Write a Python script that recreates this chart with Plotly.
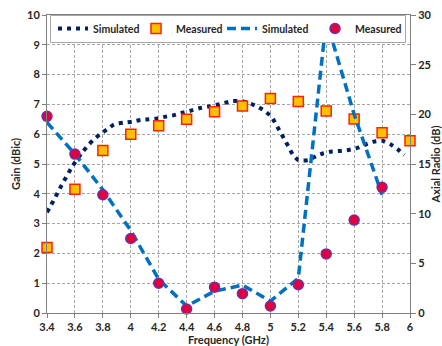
import plotly.graph_objects as go

# Simulated gain (dotted curve)
sim_gain_freq = [3.40, 3.43, 3.46, 3.49, 3.52, 3.55, 3.58, 3.65, 3.69, 3.73, 3.78, 3.83, 3.88, 3.95,
                 4.01, 4.07, 4.13, 4.19, 4.25, 4.31, 4.37, 4.43, 4.49, 4.55, 4.61, 4.67, 4.73, 4.79,
                 4.85, 4.91, 4.96, 5.01, 5.04, 5.07, 5.10, 5.13, 5.16, 5.20, 5.27, 5.33, 5.38, 5.44,
                 5.50, 5.56, 5.63, 5.68, 5.74, 5.80, 5.86, 5.91, 5.96]
sim_gain = [3.38, 3.63, 3.89, 4.16, 4.42, 4.66, 4.91, 5.38, 5.60, 5.80, 6.00, 6.16, 6.33, 6.39,
            6.42, 6.48, 6.50, 6.53, 6.59, 6.64, 6.72, 6.79, 6.87, 6.92, 6.98, 7.05, 7.11, 7.11,
            7.04, 6.92, 6.78, 6.57, 6.33, 6.08, 5.83, 5.58, 5.32, 5.13, 5.13, 5.27, 5.36, 5.42,
            5.44, 5.47, 5.55, 5.65, 5.75, 5.78, 5.66, 5.50, 5.30]

# Measured gain (squares)
meas_freq = [3.4, 3.6, 3.8, 4.0, 4.2, 4.4, 4.6, 4.8, 5.0, 5.2, 5.4, 5.6, 5.8, 6.0]
meas_gain = [2.2, 4.15, 5.45, 6.0, 6.28, 6.5, 6.75, 6.95, 7.2, 7.1, 6.78, 6.51, 6.05, 5.78]

# Simulated axial ratio (dashed)
sim_ar_freq = [3.4, 3.6, 3.8, 4.0, 4.2, 4.4, 4.6, 4.8, 5.0, 5.2, 5.4, 5.6, 5.8]
sim_ar = [19.2, 16.0, 12.4, 8.3, 3.4, 0.7, 2.2, 2.8, 1.2, 3.5, 29.5, 20.0, 11.9]

# Measured axial ratio (circles)
meas_ar_freq = [3.4, 3.6, 3.8, 4.0, 4.2, 4.4, 4.6, 4.8, 5.0, 5.2, 5.4, 5.6, 5.8]
meas_ar = [19.8, 16.0, 11.9, 7.5, 3.0, 0.4, 2.6, 1.95, 0.7, 2.85, 5.95, 9.35, 12.65]

x_ticks = [3.4, 3.6, 3.8, 4.0, 4.2, 4.4, 4.6, 4.8, 5.0, 5.2, 5.4, 5.6, 5.8, 6.0]
x_labels = ["3.4", "3.6", "3.8", "4", "4.2", "4.4", "4.6", "4.8", "5", "5.2", "5.4", "5.6", "5.8", "6"]

FONT = "Lato"
bold = dict(family=FONT, size=11, color="#262626", weight="bold")
legfont = dict(family=FONT, size=10.5, color="#262626", weight="bold")

fig = go.Figure()
fig.add_trace(go.Scatter(
    x=sim_gain_freq, y=sim_gain, mode="lines", name="Simulated", legend="legend",
    line=dict(color="#002060", width=4, dash="4px,5px", shape="spline", smoothing=0.5),
    yaxis="y", cliponaxis=False))
fig.add_trace(go.Scatter(
    x=meas_freq, y=meas_gain, mode="markers", name="Measured", legend="legend2",
    marker=dict(symbol="square", size=10, color="#FFC000", line=dict(color="#FF2000", width=1.5)),
    yaxis="y", cliponaxis=False))
fig.add_trace(go.Scatter(
    x=sim_ar_freq, y=sim_ar, mode="lines", name="Simulated", legend="legend3",
    line=dict(color="#0070C0", width=3.5, dash="9px,5px"),
    yaxis="y2", cliponaxis=False))
fig.add_trace(go.Scatter(
    x=meas_ar_freq, y=meas_ar, mode="markers", name="Measured", legend="legend4",
    marker=dict(symbol="circle", size=10, color="#E4003F", line=dict(color="#7030A0", width=1.5)),
    yaxis="y2", cliponaxis=False))

grid = dict(showgrid=True, gridcolor="#A6A6A6", gridwidth=1, griddash="3px,2px")

# plot area in px: left 47, right 410, top 15, bottom 313
PL, PW, PT, PH = 47, 363, 15, 298
def px_x(p):
    return (p - PL) / PW
def px_y(p):
    return (PT + PH - p) / PH

def leg(xpx):
    return dict(x=px_x(xpx), y=px_y(28.5), xanchor="left", yanchor="middle",
                bgcolor="rgba(0,0,0,0)", borderwidth=0, font=legfont,
                orientation="h", itemwidth=30)

fig.update_layout(
    width=442, height=346,
    margin=dict(l=47, r=32, t=15, b=33),
    paper_bgcolor="white", plot_bgcolor="white",
    showlegend=True,
    legend=leg(53), legend2=leg(136), legend3=leg(222), legend4=leg(315),
    shapes=[dict(type="rect", xref="paper", yref="paper",
                 x0=px_x(50.5), x1=px_x(405.5), y0=px_y(42.5), y1=px_y(15.5),
                 fillcolor="white", line=dict(color="#A6A6A6", width=1), layer="above")],
    xaxis=dict(range=[3.4, 6.0], tickvals=x_ticks, ticktext=x_labels,
               showline=True, linecolor="#7F7F7F", linewidth=1, mirror=True,
               ticks="outside", ticklen=4, tickcolor="#7F7F7F",
               tickfont=bold, automargin=False,
               title=dict(text="Frequency (GHz)", font=bold, standoff=11),
               zeroline=False, **grid),
    yaxis=dict(range=[0, 10], dtick=1, showline=True, linecolor="#7F7F7F", linewidth=1,
               ticks="outside", ticklen=4, tickcolor="#7F7F7F",
               tickfont=bold, automargin=False,
               title=dict(text="Gain (dBic)", font=bold, standoff=4),
               zeroline=False, **grid),
    yaxis2=dict(range=[0, 30], dtick=5, overlaying="y", side="right",
                showline=True, linecolor="#7F7F7F", linewidth=1,
                ticks="outside", ticklen=5, tickcolor="#7F7F7F",
                tickfont=bold, automargin=False, showgrid=False, zeroline=False,
                title=dict(text="Axial Radio (dB)", font=bold, standoff=10)),
)

fig.write_html("out.html")
